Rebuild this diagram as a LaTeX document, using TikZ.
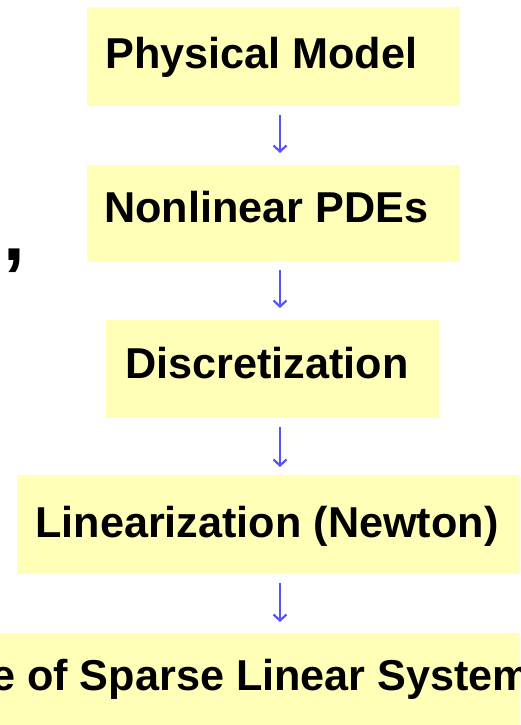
\documentclass[tikz,border=0pt]{standalone}
\usepackage{fontspec}
\setmainfont{Liberation Sans}
\usetikzlibrary{arrows.meta,calc}
\definecolor{stepfill}{RGB}{255,255,183}
\definecolor{flowblue}{RGB}{85,85,245}

\begin{document}
\begin{tikzpicture}[x=1pt,y=-1pt,
  stage/.style={fill=stepfill, draw=none, inner sep=0pt, anchor=north west},
  stagetext/.style={anchor=base west, inner sep=0pt,
    font=\fontsize{43.2}{50}\selectfont\bfseries},
  flow/.style={draw=flowblue, line width=2.6pt,
    -{Straight Barb[length=6pt,width=13pt,line width=2.2pt]}}
]
\useasboundingbox (0,0) rectangle (520,725);
\clip (0,0) rectangle (520,725);

% axis for the arrows
\coordinate (ax) at (280,0);

% stage boxes
\node[stage, minimum width=373pt, minimum height=99pt] (b1) at (87,7) {};
\node[stage, minimum width=373pt, minimum height=97pt] (b2) at (87,165) {};
\node[stage, minimum width=333pt, minimum height=98pt] (b3) at (106,320) {};
\node[stage, minimum width=510pt, minimum height=99pt] (b4) at (17,475) {};
\node[stage, minimum width=520pt, minimum height=95pt] (b5) at (0,633) {};

% stage labels
\node[stagetext] (t1) at (105,68) {Physical Model};
\node[stagetext] (t2) at (104,222) {Nonlinear PDEs};
\node[stagetext] (t3) at (125,378) {Discretization};
\node[stagetext] (t4) at (35,537) {Linearization (Newton)};
\node[stagetext] (t5) at (-9,690) {e of Sparse Linear System};

% stray comma on the left
\node[anchor=base west, inner sep=0pt, font=\fontsize{78}{90}\selectfont\bfseries] (cm) at (3,260) {,};

% arrows between stages
\draw[flow] ($(b1.south -| ax)+(0,9)$) -- ($(b2.north -| ax)+(0,-12)$);
\draw[flow] ($(b2.south -| ax)+(0,8)$) -- ($(b3.north -| ax)+(0,-12)$);
\draw[flow] ($(b3.south -| ax)+(0,9)$) -- ($(b4.north -| ax)+(0,-8)$);
\draw[flow] ($(b4.south -| ax)+(0,9)$) -- ($(b5.north -| ax)+(0,-11)$);
\end{tikzpicture}
\end{document}
